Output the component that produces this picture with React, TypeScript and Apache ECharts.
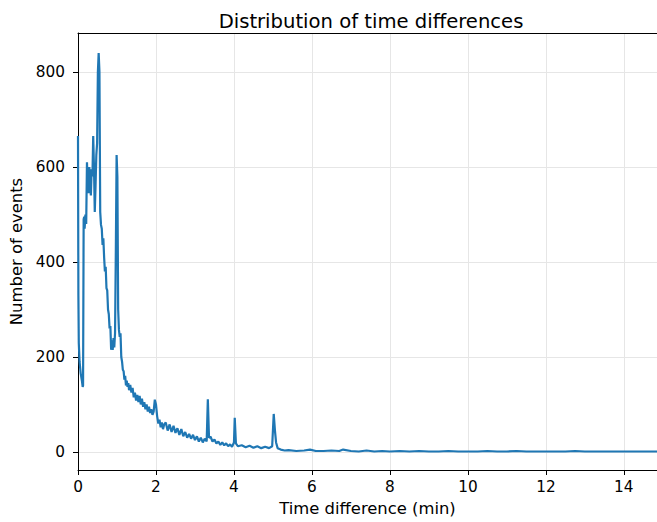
import React, { useEffect, useRef } from "react";
import * as echarts from "echarts";

const titleText = "Distribution of time differences";
const xName = "Time difference (min)";
const yName = "Number of events";
const xTicks = [0, 2, 4, 6, 8, 10, 12, 14];
const yTicks = [0, 200, 400, 600, 800];

const timeMin = [
  0.0, 0.01, 0.02, 0.04, 0.07, 0.1, 0.12, 0.13, 0.145, 0.16, 0.17, 0.19, 0.21, 0.23, 0.25, 0.27, 0.29,
  0.31, 0.33, 0.35, 0.37, 0.39, 0.41, 0.43, 0.45, 0.47, 0.49, 0.51, 0.53, 0.55, 0.57, 0.59, 0.61, 0.63,
  0.65, 0.67, 0.69, 0.71, 0.73, 0.75, 0.77, 0.79, 0.81, 0.83, 0.85, 0.87, 0.89, 0.91, 0.93, 0.95, 0.97,
  0.99, 1.01, 1.03, 1.05, 1.07, 1.09, 1.11, 1.13, 1.15, 1.17, 1.19, 1.21, 1.23, 1.25, 1.27, 1.29,
  1.31, 1.34, 1.37, 1.4, 1.43, 1.46, 1.49, 1.52, 1.55, 1.58, 1.61, 1.64, 1.67, 1.7, 1.73, 1.76, 1.79,
  1.82, 1.85, 1.88, 1.91, 1.94, 1.97, 2.0, 2.03, 2.06, 2.09, 2.12, 2.15, 2.18, 2.21, 2.25, 2.3, 2.35,
  2.4, 2.45, 2.5, 2.55, 2.6, 2.65, 2.7, 2.75, 2.8, 2.85, 2.9, 2.95, 3.0, 3.05, 3.1, 3.15, 3.2, 3.25,
  3.3, 3.33, 3.36, 3.4, 3.45, 3.5, 3.55, 3.6, 3.65, 3.7, 3.75, 3.8, 3.85, 3.9, 3.95, 4.0, 4.02, 4.05,
  4.1, 4.2, 4.3, 4.4, 4.5, 4.6, 4.7, 4.8, 4.9, 4.98, 5.02, 5.05, 5.08, 5.12, 5.2, 5.3, 5.4, 5.6, 5.8,
  5.95, 6.1, 6.3, 6.5, 6.7, 6.8, 7.0, 7.2, 7.4, 7.6, 7.8, 8.0, 8.25, 8.5, 8.75, 9.0, 9.25, 9.5, 9.75,
  10.0, 10.25, 10.5, 10.75, 11.0, 11.25, 11.5, 11.75, 12.0, 12.25, 12.5, 12.75, 13.0, 13.25, 13.5,
  13.75, 14.0, 14.25, 14.5, 14.85,
];

const eventCounts = [
  665, 330, 230, 190, 165, 150, 137, 140, 490, 495, 470, 500, 480, 610, 560, 545, 600,
  570, 540, 595, 580, 665, 600, 505, 560, 625, 650, 800, 840, 800, 505, 478, 470, 436,
  450, 410, 380, 390, 345, 340, 300, 290, 260, 265, 215, 235, 215, 240, 220, 250, 420,
  625, 580, 300, 257, 242, 250, 200, 190, 173, 170, 152, 160, 140, 150, 137, 145,
  130, 141, 125, 135, 115, 125, 108, 120, 105, 118, 100, 112, 95, 105, 90, 100, 85,
  95, 82, 90, 78, 85, 110, 100, 75, 60, 68, 52, 62, 48, 58, 62, 45, 58,
  42, 55, 40, 50, 36, 48, 33, 42, 30, 38, 28, 36, 25, 33, 22, 30, 20, 28,
  22, 111, 30, 32, 22, 26, 18, 22, 15, 20, 14, 18, 12, 16, 11, 20, 72, 18,
  12, 14, 10, 13, 9, 12, 8, 11, 8, 12, 80, 46, 20, 8, 5, 3, 4, 2, 3,
  5, 2, 2, 3, 2, 5, 2, 1, 3, 1, 2, 1, 2, 1, 2, 1, 1, 2, 1,
  1, 1, 2, 1, 1, 2, 1, 1, 1, 1, 1, 2, 1, 1, 1,
  1, 1, 1, 1, 1,
];

const FONT = "DejaVu Sans";

export default function App() {
  const ref = useRef<HTMLDivElement>(null);
  useEffect(() => {
    document.body.style.margin = "0";
    const chart = echarts.init(ref.current!, undefined, { renderer: "svg" });
    const data = timeMin.map((t, i) => [t, eventCounts[i]]);
    chart.setOption({
      animation: false,
      backgroundColor: "#ffffff",
      title: {
        text: titleText,
        left: 366,
        top: 6,
        textAlign: "center",
        textStyle: { fontFamily: FONT, fontSize: 19.6, fontWeight: "normal", color: "#000" },
      },
      grid: { left: 78, right: 0, top: 33, bottom: 52 },
      xAxis: [
        {
          type: "value",
          min: 0,
          max: 14.85,
          name: xName,
          nameLocation: "middle",
          nameGap: 30,
          nameTextStyle: { fontFamily: FONT, fontSize: 16.4, color: "#000" },
          axisLine: { show: true, onZero: false, lineStyle: { color: "#000", width: 1 } },
          axisTick: { show: true, length: 5, customValues: xTicks, lineStyle: { color: "#000" } },
          axisLabel: {
            customValues: xTicks,
            margin: 9,
            fontFamily: FONT,
            fontSize: 15.3,
            color: "#000",
          },
          splitLine: { show: true, lineStyle: { color: "#e6e6e6", width: 1 } },
        },
        {
          type: "value",
          position: "top",
          min: 0,
          max: 14.85,
          axisLine: { show: true, onZero: false, lineStyle: { color: "#000", width: 1 } },
          axisTick: { show: false },
          axisLabel: { show: false },
          splitLine: { show: false },
        },
      ],
      yAxis: {
        type: "value",
        min: -38,
        max: 882,
        name: yName,
        nameLocation: "middle",
        nameGap: 48,
        nameTextStyle: { fontFamily: FONT, fontSize: 16.4, color: "#000" },
        axisLine: { show: true, onZero: false, lineStyle: { color: "#000", width: 1 } },
        axisTick: { show: true, length: 5, customValues: yTicks, lineStyle: { color: "#000" } },
        axisLabel: {
          customValues: yTicks,
          margin: 13,
          fontFamily: FONT,
          fontSize: 15.3,
          color: "#000",
        },
        splitLine: { show: true, lineStyle: { color: "#e6e6e6", width: 1 } },
      },
      series: [
        {
          type: "line",
          data,
          xAxisIndex: 0,
          showSymbol: false,
          symbol: "none",
          lineStyle: { color: "#1f77b4", width: 2.2 },
          clip: true,
        },
      ],
    });
    return () => chart.dispose();
  }, []);
  return <div ref={ref} style={{ width: 657, height: 522 }} />;
}
